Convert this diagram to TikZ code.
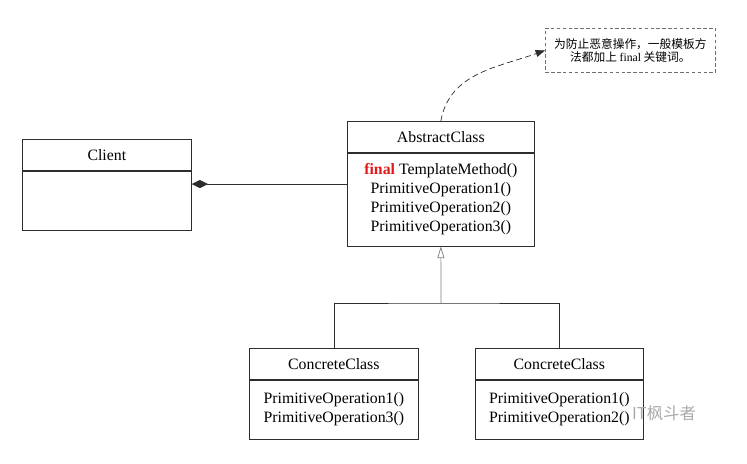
\documentclass[tikz,border=0pt]{standalone}
\usepackage{fontspec}
\setmainfont{Liberation Serif}
\newfontfamily\cjk{Noto Sans CJK SC}
\usepackage{tikz}
\usetikzlibrary{arrows.meta,positioning}
\definecolor{cLine}{RGB}{45,45,45}
\definecolor{cGen}{RGB}{125,125,125}
\definecolor{cNote}{RGB}{110,110,110}
\definecolor{cFinal}{RGB}{225,25,25}
\definecolor{cMark}{RGB}{170,170,170}
\tikzset{
  hdr/.style={draw=cLine,line width=0.6pt,minimum height=0.93cm,inner sep=0pt,anchor=north west},
  bdy/.style={draw=cLine,line width=0.6pt,inner sep=0pt,anchor=north,align=center},
  notebox/.style={draw=cNote,line width=0.6pt,dash pattern=on 3pt off 2pt,inner sep=0pt,
    align=center,anchor=north west,font=\cjk\fontsize{10}{11.4}\selectfont},
  comp/.style={cLine,line width=0.6pt,{Diamond[length=14pt,width=7pt]}-},
  gen/.style={cLine,line width=0.6pt},
}

\begin{document}
\begin{tikzpicture}[x=0.03cm,y=-0.03cm,font=\fontsize{13.5}{16.2}\selectfont]
  \useasboundingbox (0,0) rectangle (747,463);
  % classes
  \node[hdr,minimum width=5.07cm] (clientH) at (22,139) {Client};
  \node[bdy,minimum width=5.07cm,minimum height=1.77cm] (clientB) at (clientH.south) {};
  \node[hdr,minimum width=5.61cm] (absH) at (347,121) {AbstractClass};
  \node[bdy,minimum width=5.61cm,minimum height=2.79cm] (absB) at (absH.south)
    {{\color{cFinal}\bfseries final} TemplateMethod()\\PrimitiveOperation1()\\
     PrimitiveOperation2()\\PrimitiveOperation3()};
  \node[hdr,minimum width=5.07cm] (concLH) at (249,348) {ConcreteClass};
  \node[bdy,minimum width=5.07cm,minimum height=1.77cm] (concLB) at (concLH.south)
    {PrimitiveOperation1()\\PrimitiveOperation3()};
  \node[hdr,minimum width=5.04cm] (concRH) at (475,348) {ConcreteClass};
  \node[bdy,minimum width=5.04cm,minimum height=1.77cm] (concRB) at (concRH.south)
    {PrimitiveOperation1()\\PrimitiveOperation2()};
  % note
  \node[notebox,minimum width=5.1cm,minimum height=1.32cm] (note) at (545,28)
    {为防止恶意操作，一般模板方\\法都加上 {\rmfamily final} 关键词。};
  \draw[cLine,line width=0.6pt,dash pattern=on 5pt off 3pt,-{Triangle[length=8pt,width=6pt]}]
    (absH.north) to[out=80,in=200] (note.west);
  % composition
  \path ([yshift=0.465cm]absB.west) coordinate (c1);
  \draw[comp] (c1 -| clientB.east) -- (c1);
  % generalization
  \coordinate (split) at (441,303);
  \draw[gen] (concLH.north) |- (split) -| (concRH.north);
  \draw[cGen,line width=0.6pt,-{Triangle[open,length=10pt,width=6pt]}] (split) -- (absB.south);
  % watermark
  \node[text=cMark,font=\cjk\fontsize{14}{14}\selectfont,anchor=west] (mark) at (628,413) {IT枫斗者};
\end{tikzpicture}
\end{document}
